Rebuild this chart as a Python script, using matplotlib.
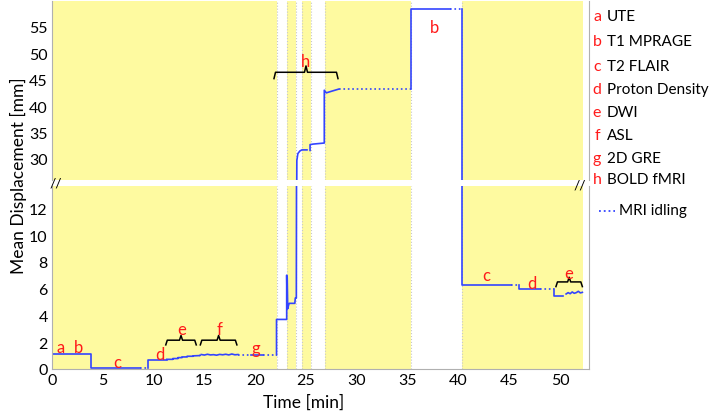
import matplotlib
matplotlib.use("agg")
import matplotlib.pyplot as plt

plt.rcParams['font.family'] = ['Lato', 'DejaVu Sans']

# motion trace, split into segments; idle segments are drawn dotted
seg_t = [
    [0, 3.8, 3.8, 8.7],
    [8.7, 9.5],
    [9.5, 9.5, 10.8, 10.8, 11.3],
    [11.3, 11.9, 11.9, 12.4, 12.4, 12.8, 12.8, 13.3, 13.3, 13.9, 13.9, 14.5],
    [14.5, 14.7],
    [14.7, 15.0, 15.3, 15.6, 15.9, 16.2, 16.5, 16.8, 17.1, 17.4, 17.7, 18.0, 18.3],
    [18.3, 19.6],
    [19.6, 20.8],
    [20.8, 22.1],
    [22.1, 22.1, 23.1, 23.1, 23.15, 23.15, 23.2, 23.3, 23.35, 23.9, 23.95, 24.05, 24.1, 24.2, 24.4, 24.6, 25.1],
    [25.4, 25.4, 25.7, 26.8, 26.8, 27.0, 27.5, 28.2],
    [28.2, 35.3],
    [35.3, 35.3, 39.2],
    [39.2, 40.4],
    [40.4, 40.4, 45.2],
    [45.2, 46.0],
    [46.0, 46.0, 48.0],
    [48.0, 49.4],
    [49.4, 49.4, 50.3],
    [50.6, 50.8, 51.0, 51.2, 51.4, 51.6, 51.8, 52.0, 52.2],
]
seg_y = [
    [1.1, 1.1, 0.05, 0.05],
    [0.05, 0.05],
    [0.05, 0.65, 0.65, 0.7, 0.7],
    [0.72, 0.72, 0.78, 0.78, 0.85, 0.85, 0.9, 0.9, 0.95, 0.95, 0.98, 1.0],
    [1.0, 1.05],
    [1.08, 1.04, 1.1, 1.05, 1.07, 1.03, 1.09, 1.06, 1.1, 1.05, 1.12, 1.06, 1.08],
    [1.05, 1.05],
    [1.05, 1.05],
    [1.05, 1.05],
    [1.05, 3.7, 3.7, 7.0, 4.6, 6.8, 4.5, 4.8, 4.9, 4.9, 5.3, 5.3, 29.7, 31.0, 31.5, 31.7, 31.7],
    [31.6, 32.7, 32.8, 33.0, 43.0, 42.5, 42.8, 43.2],
    [43.2, 43.2],
    [43.2, 58.3, 58.3],
    [58.3, 58.3],
    [58.3, 6.3, 6.3],
    [6.3, 6.3],
    [6.3, 6.0, 6.0],
    [6.0, 6.0],
    [6.0, 5.45, 5.45],
    [5.6, 5.7, 5.62, 5.75, 5.65, 5.7, 5.8, 5.68, 5.72],
]
seg_idle = [False, True, False, False, True, False, True, False, True, False,
            False, True, False, True, False, True, False, True, False, False]

# time ranges without yellow shading
gaps = [(22.1, 23.1), (24.0, 24.6), (25.5, 26.9), (35.3, 40.4)]
scan_end = 52.3

# sequence letters in the plot
lab_text = ['a', 'b', 'c', 'd', 'e', 'f', 'g', 'c', 'd', 'e']
lab_x = [0.9, 2.6, 6.4, 10.6, 12.75, 16.5, 20.1, 42.7, 47.2, 50.9]
lab_y = [1.65, 1.65, 0.55, 1.1, 3.0, 3.0, 1.55, 7.0, 6.4, 7.2]
brace_lo = [(11.2, 14.2, 2.15), (14.6, 18.2, 2.15), (49.6, 52.2, 6.5)]

legend_letters = ['a', 'b', 'c', 'd', 'e', 'f', 'g', 'h']
legend_names = ['UTE', 'T1 MPRAGE', 'T2 FLAIR', 'Proton Density', 'DWI', 'ASL', '2D GRE', 'BOLD fMRI']

yellow = '#fefaa0'
blue = '#3344ff'
red = '#ff1a1a'

fig = plt.figure(figsize=(7.09, 4.14), dpi=100)
ax_hi = fig.add_axes([0.0733, 0.5628, 0.7574, 0.4324])
ax_lo = fig.add_axes([0.0733, 0.1063, 0.7574, 0.4420])


def brace(ax, x0, x1, y, d):
    xm = (x0 + x1) / 2
    e = 0.15
    ax.plot([x0, x0 + e, xm - e, xm, xm + e, x1 - e, x1],
            [y - d, y, y, y + d, y, y, y - d], color='black', lw=1.1)


for ax in (ax_hi, ax_lo):
    ax.axvspan(0, scan_end, color=yellow, lw=0, zorder=0)
    for g0, g1 in gaps:
        ax.axvspan(g0, g1, color='white', lw=0, zorder=0.5)
        for gx in (g0, g1):
            ax.axvline(gx, color='#c8c8c8', lw=0.8, ls=':', zorder=0.6)
    for t, y, idle in zip(seg_t, seg_y, seg_idle):
        ax.plot(t, y, color=blue, lw=1.2, ls=':' if idle else '-', zorder=2)
    ax.set_xlim(0, 52.85)
    ax.tick_params(length=0, labelsize=11.5, pad=3)
    for s in ax.spines.values():
        s.set_color('#b0b0b0')

ax_hi.set_ylim(26.0, 59.9)
ax_hi.set_yticks([30, 35, 40, 45, 50, 55])
ax_hi.set_xticks([])
ax_hi.spines['bottom'].set_visible(False)
ax_hi.spines['top'].set_visible(False)

ax_lo.set_ylim(0, 13.66)
ax_lo.set_yticks([0, 2, 4, 6, 8, 10, 12])
ax_lo.set_xticks(range(0, 55, 5))
ax_lo.spines['top'].set_visible(False)

for s, x, y in zip(lab_text, lab_x, lab_y):
    ax_lo.text(x, y, s, color=red, fontsize=12, ha='center', va='center')
for x0, x1, y in brace_lo:
    brace(ax_lo, x0, x1, y, 0.35)

ax_hi.text(25.0, 48.6, 'h', color=red, fontsize=12, ha='center', va='center')
ax_hi.text(37.6, 54.9, 'b', color=red, fontsize=12, ha='center', va='center')
brace(ax_hi, 21.85, 28.15, 46.4, 1.2)

# axis break marks
fig.text(56 / 709, 1 - 184 / 414, '//', fontsize=10, ha='center', va='center')
fig.text(580 / 709, 1 - 186 / 414, '//', fontsize=10, ha='center', va='center')

fig.text(18 / 709, 1 - 176 / 414, 'Mean Displacement [mm]', rotation=90,
         fontsize=12.5, ha='center', va='center')
fig.text(304 / 709, 1 - 403 / 414, 'Time [min]', fontsize=12.5, ha='center', va='center')

# legend
row_y = [17, 42, 67, 90, 113, 136, 159, 180]
for letter, name, yy in zip(legend_letters, legend_names, row_y):
    fig.text(597 / 709, 1 - yy / 414, letter, color=red, fontsize=11.5, ha='center', va='center')
    fig.text(607 / 709, 1 - yy / 414, name, fontsize=11, ha='left', va='center')
fig.add_artist(plt.Line2D([599 / 709, 615 / 709], [1 - 212 / 414] * 2, color=blue, lw=1.3,
                          ls=':', transform=fig.transFigure))
fig.text(619 / 709, 1 - 211 / 414, 'MRI idling', fontsize=11, ha='left', va='center')

fig.savefig('out.png', dpi=100)
